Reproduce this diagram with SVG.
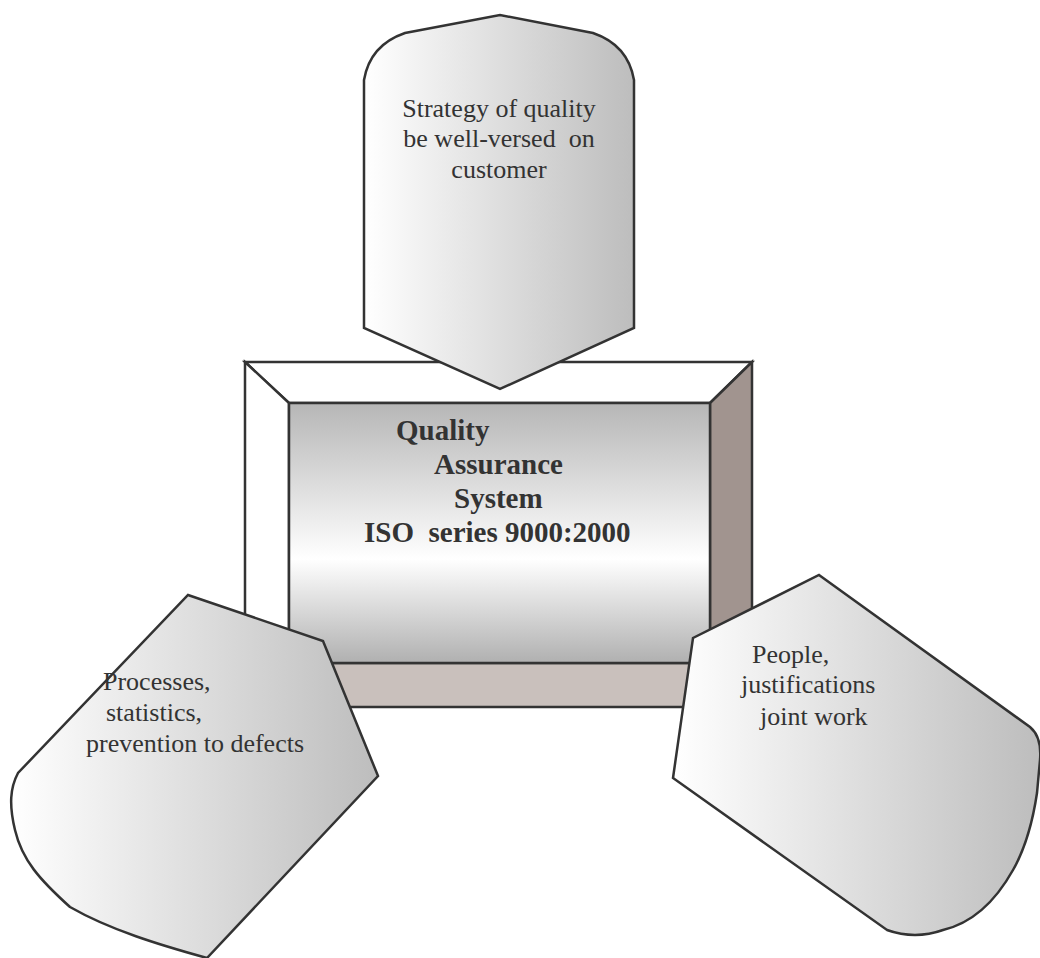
<svg xmlns="http://www.w3.org/2000/svg" width="1040" height="958" viewBox="0 0 1040 958">
<defs>
<linearGradient id="hg" x1="0" y1="0" x2="1" y2="0">
<stop offset="0" stop-color="#ffffff"/>
<stop offset="1" stop-color="#bdbdbd"/>
</linearGradient>
<linearGradient id="vg" x1="0" y1="0" x2="0" y2="1">
<stop offset="0" stop-color="#b6b6b6"/>
<stop offset="0.6" stop-color="#ffffff"/>
<stop offset="1" stop-color="#b0b0b0"/>
</linearGradient>
</defs>
<style>
.ln{stroke:#333;stroke-width:2.5;stroke-linejoin:miter}
.sh{fill:url(#hg);stroke:#333;stroke-width:2.5;stroke-linejoin:miter}
.t{font-family:"Liberation Serif",serif;font-size:26px;fill:#333;white-space:pre}
.b{font-family:"Liberation Serif",serif;font-size:29px;font-weight:bold;fill:#333;white-space:pre}
</style>
<rect width="1040" height="958" fill="#ffffff"/>
<g id="box">
<polygon class="ln" points="245,362 752,362 710,403 289,403" fill="#ffffff"/>
<polygon class="ln" points="245,362 289,403 289,663 245,707" fill="#ffffff"/>
<polygon class="ln" points="752,362 752,707 710,663 710,403" fill="#a1948f"/>
<polygon class="ln" points="245,707 289,663 710,663 752,707" fill="#c9c0bc"/>
<rect class="ln" x="289" y="403" width="421" height="260" fill="url(#vg)"/>
<text class="b" x="396" y="440">Quality</text>
<text class="b" x="434" y="474">Assurance</text>
<text class="b" x="454" y="508">System</text>
<text class="b" x="364" y="542">ISO  series 9000:2000</text>
</g>
<g id="connectors"></g>
<g id="top">
<path class="sh" d="M364,80 Q370,45 405,33 L500,15 L593,33 Q628,45 634,80 L634,328 L500,389 L364,328 Z"/>
<text class="t" x="499" y="117" text-anchor="middle">Strategy of quality</text>
<text class="t" x="499" y="147" text-anchor="middle">be well-versed  on</text>
<text class="t" x="499" y="178" text-anchor="middle">customer</text>
</g>
<g id="left">
<path class="sh" d="M188,595 L323,641 L378,776 L207,958 C160,945 110,930 70,907 C40,880 22,860 15,830 C9,805 10,788 18,773 Z"/>
<text class="t" x="103" y="690">Processes,</text>
<text class="t" x="106" y="721">statistics,</text>
<text class="t" x="86" y="752">prevention to defects</text>
</g>
<g id="right">
<path class="sh" d="M819,575 L1030,727 Q1042,737 1040,760 L1037,793 Q1030,840 1013,870 Q985,920 943,930 Q915,940 887,930 L673,778 L693,638 Z"/>
<text class="t" x="752" y="663">People,</text>
<text class="t" x="741" y="693">justifications</text>
<text class="t" x="760" y="725">joint work</text>
</g>
</svg>
